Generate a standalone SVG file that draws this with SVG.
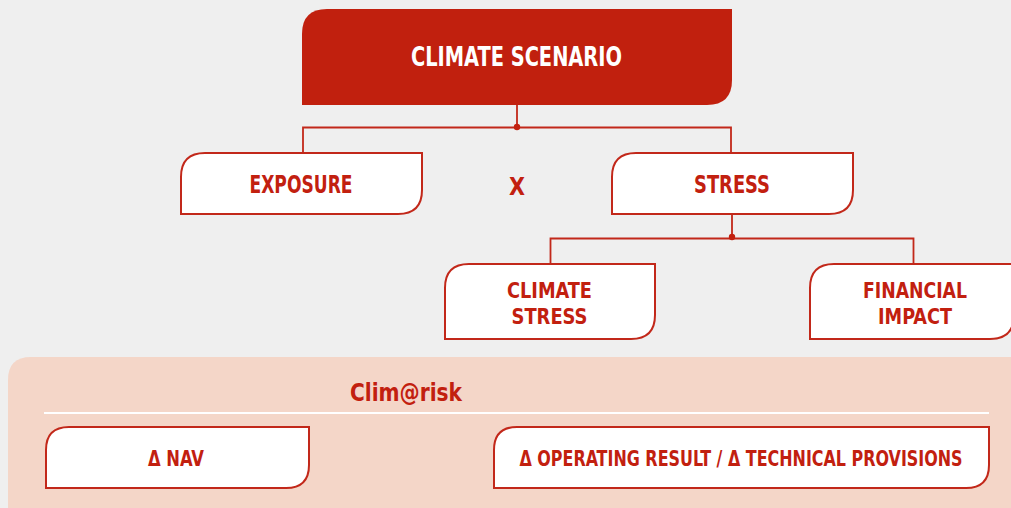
<svg xmlns="http://www.w3.org/2000/svg" width="1011" height="508" viewBox="0 0 1011 508">
<style>
.box{fill:#ffffff;stroke:#c2281a;stroke-width:2}
.t{font-family:"Liberation Sans Narrow","DejaVu Sans Condensed","Liberation Sans",sans-serif;font-weight:bold;fill:#c2200f;text-anchor:middle}
.w{fill:#ffffff}
.ln{fill:none;stroke:#c2281a;stroke-width:1.8}
.dot{fill:#c2200f}
</style>
<rect x="0" y="0" width="1011" height="508" fill="#efefef"/>
<g id="panel">
<path d="M8,380 Q8,357 31,357 H1011 V508 H8 Z" fill="#f4d6c8"/>
<line x1="44" y1="413" x2="989" y2="413" stroke="#ffffff" stroke-width="2"/>
<text class="t" x="406" y="401" font-size="25" textLength="112" lengthAdjust="spacingAndGlyphs">Clim@risk</text>
</g>
<g id="connectors">
<path class="ln" d="M517,105 V127.5 M303,153 V127.5 H731 V153"/>
<circle class="dot" cx="517" cy="127" r="3.2"/>
<path class="ln" d="M732,215 V238.5 M550.5,264 V238.5 H913.5 V264"/>
<circle class="dot" cx="732" cy="237" r="3.2"/>
</g>
<g id="climate-scenario">
<path d="M302,34 Q302,9 327,9 H732 V80 Q732,105 707,105 H302 Z" fill="#c1200e"/>
<text class="t w" x="516.5" y="66" font-size="27" textLength="211" lengthAdjust="spacingAndGlyphs">CLIMATE SCENARIO</text>
</g>
<g id="exposure">
<path class="box" d="M181,177 Q181,153 205,153 H422 V190 Q422,214 398,214 H181 Z"/>
<text class="t" x="301" y="193" font-size="24" textLength="103" lengthAdjust="spacingAndGlyphs">EXPOSURE</text>
</g>
<g id="times">
<text class="t" x="517" y="195" font-size="24" textLength="16" lengthAdjust="spacingAndGlyphs">X</text>
</g>
<g id="stress">
<path class="box" d="M612,177 Q612,153 636,153 H853 V190 Q853,214 829,214 H612 Z"/>
<text class="t" x="732" y="193" font-size="24" textLength="76" lengthAdjust="spacingAndGlyphs">STRESS</text>
</g>
<g id="climate-stress">
<path class="box" d="M445,288 Q445,264 469,264 H655 V315 Q655,339 631,339 H445 Z"/>
<text class="t" x="549.5" y="298" font-size="21.5" textLength="85" lengthAdjust="spacingAndGlyphs">CLIMATE</text>
<text class="t" x="549.5" y="323.5" font-size="21.5" textLength="76" lengthAdjust="spacingAndGlyphs">STRESS</text>
</g>
<g id="financial-impact">
<path class="box" d="M810,288 Q810,264 834,264 H1014 V315 Q1014,339 990,339 H810 Z"/>
<text class="t" x="915" y="298" font-size="21.5" textLength="104" lengthAdjust="spacingAndGlyphs">FINANCIAL</text>
<text class="t" x="915" y="323.5" font-size="21.5" textLength="74" lengthAdjust="spacingAndGlyphs">IMPACT</text>
</g>
<g id="delta-nav">
<path class="box" d="M46,450 Q46,427 69,427 H309 V465 Q309,488 286,488 H46 Z"/>
<text class="t" x="176" y="466" font-size="21" textLength="56" lengthAdjust="spacingAndGlyphs">Δ NAV</text>
</g>
<g id="delta-operating">
<path class="box" d="M494,450 Q494,427 517,427 H989 V465 Q989,488 966,488 H494 Z"/>
<text class="t" transform="translate(741,466) scale(0.79,1)" x="0" y="0" font-size="21" textLength="561" lengthAdjust="spacingAndGlyphs">Δ OPERATING RESULT / Δ TECHNICAL PROVISIONS</text>
</g>
</svg>
